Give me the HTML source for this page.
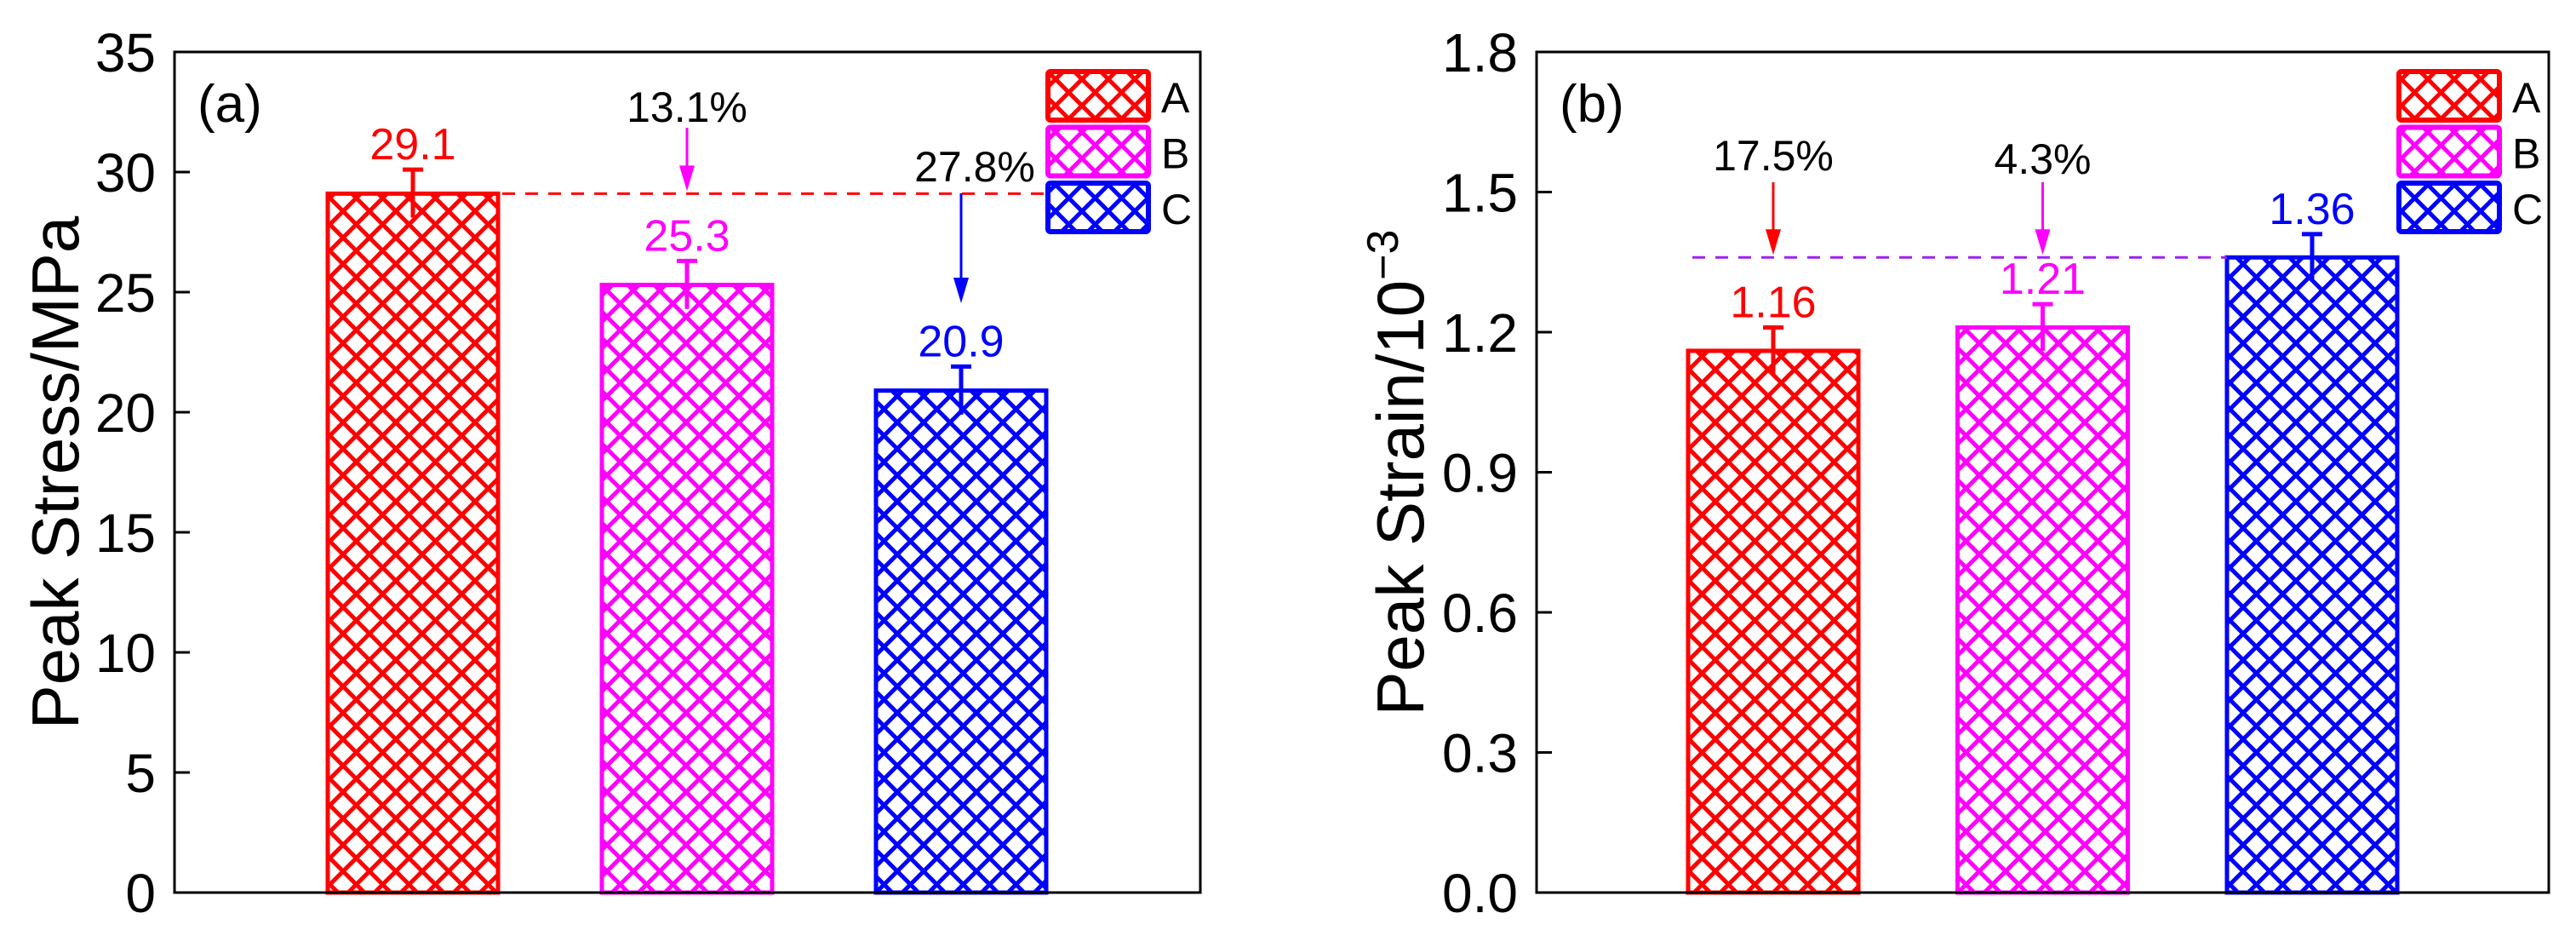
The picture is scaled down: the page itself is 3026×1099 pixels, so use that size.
<!DOCTYPE html>
<html><head><meta charset="utf-8"><style>
html,body{margin:0;padding:0;background:#fff}
svg{display:block}
text{font-family:"Liberation Sans",Arial,sans-serif}
</style></head><body>
<svg id="chart" width="3026" height="1099" viewBox="0 0 3026 1099" xmlns="http://www.w3.org/2000/svg">
<defs>
<pattern id="hA" patternUnits="userSpaceOnUse" width="31" height="31"><path d="M-8,-8 L39,39 M-8,39 L39,-8 M-8,23 L8,39 M23,-8 L39,8 M-8,8 L8,-8 M23,39 L39,23" stroke="#ff0000" stroke-width="5" fill="none"/></pattern>
<pattern id="hB" patternUnits="userSpaceOnUse" width="31" height="31"><path d="M-8,-8 L39,39 M-8,39 L39,-8 M-8,23 L8,39 M23,-8 L39,8 M-8,8 L8,-8 M23,39 L39,23" stroke="#ff00ff" stroke-width="5" fill="none"/></pattern>
<pattern id="hC" patternUnits="userSpaceOnUse" width="31" height="31"><path d="M-8,-8 L39,39 M-8,39 L39,-8 M-8,23 L8,39 M23,-8 L39,8 M-8,8 L8,-8 M23,39 L39,23" stroke="#0000ff" stroke-width="5" fill="none"/></pattern>
<marker id="arR" markerWidth="6" markerHeight="8" refX="5" refY="4" orient="auto" markerUnits="userSpaceOnUse" viewBox="0 0 6 8"><path d="M0,0 L6,4 L0,8 Z" fill="#ff0000"/></marker>
</defs>
</svg>
<script>
const categories = ["A", "B", "C"];
const colors = ["#ff0000", "#ff00ff", "#0000ff"];
const stressValues = [29.1, 25.3, 20.9];
const stressErrors = [1.0, 1.0, 1.0];
const stressLabels = ["29.1", "25.3", "20.9"];
const stressTicks = [0, 5, 10, 15, 20, 25, 30, 35];
const stressTickLabels = ["0", "5", "10", "15", "20", "25", "30", "35"];
const strainValues = [1.16, 1.21, 1.36];
const strainErrors = [0.05, 0.05, 0.05];
const strainLabels = ["1.16", "1.21", "1.36"];
const strainTicks = [0, 0.3, 0.6, 0.9, 1.2, 1.5, 1.8];
const strainTickLabels = ["0.0", "0.3", "0.6", "0.9", "1.2", "1.5", "1.8"];

const NS = "http://www.w3.org/2000/svg";
const svg = document.getElementById("chart");
function mk(tag, attrs, parent, text) {
  const e = document.createElementNS(NS, tag);
  for (const k in attrs) e.setAttribute(k, attrs[k]);
  if (text !== undefined) e.textContent = text;
  (parent || svg).appendChild(e);
  return e;
}
function arrow(g, x, y1, y2, color) {
  const l = mk("line", {x1: x, y1: y1, x2: x, y2: y2 - 26, stroke: color, "stroke-width": 3}, g);
  
  
  const h = mk("path", {d: `M${x - 9},${y2 - 30} L${x + 9},${y2 - 30} L${x},${y2} Z`, fill: color}, g);
  
  
}

function panel(cfg) {
  const g = mk("g", {});
  
  
  const L = cfg.left, R = cfg.right, T = 61, B = 1048;
  const y = v => B - (v - 0) / (cfg.max) * (B - T);
  const spacing = cfg.spacing;
  const x = i => cfg.firstX + i * spacing;
  const bw = 200;
  // ticks and labels
  cfg.ticks.forEach((t, i) => {
    if (t > 0 && t < cfg.max) {
      const tk = mk("line", {x1: L, y1: y(t), x2: L + 18, y2: y(t), stroke: "#000", "stroke-width": 3}, g);
      
      
    }
    const tl = mk("text", {x: L - 22, y: y(t) + 23, "text-anchor": "end", "font-size": 64}, g, cfg.tickLabels[i]);
    
    
  });
  // bars
  cfg.values.forEach((v, i) => {
    const bar = mk("rect", {x: x(i) - bw / 2, y: y(v), width: bw, height: B - y(v), fill: `url(#h${categories[i]})`, stroke: colors[i], "stroke-width": 5}, g);
    
    
    const e = cfg.errors[i];
    const eb = mk("path", {d: `M${x(i)},${y(v - e)} L${x(i)},${y(v + e)} M${x(i) - 12},${y(v + e)} L${x(i) + 12},${y(v + e)}`, stroke: colors[i], "stroke-width": 5, fill: "none"}, g);
    
    
    const vl = mk("text", {x: x(i), y: y(v + e) - 12, "text-anchor": "middle", "font-size": 52, fill: colors[i]}, g, cfg.labels[i]);
    
    
  });
  cfg.extra(g, x, y, bw);
  // frame
  const fr = mk("rect", {x: L, y: T, width: R - L, height: B - T, fill: "none", stroke: "#000", "stroke-width": 3}, g);
  
  
  // panel letter
  const pl = mk("text", {x: L + 27, y: 143, "font-size": 62}, g, cfg.letter);
  
  
  // legend
  categories.forEach((c, i) => {
    const ly = 84 + i * 65.5;
    const lb = mk("rect", {x: cfg.legX, y: ly, width: 118, height: 57, rx: 3, fill: `url(#h${c})`, stroke: colors[i], "stroke-width": 6}, g);
    
    
    const lt = mk("text", {x: cfg.legX + 133, y: ly + 48, "font-size": 50}, g, c);
    
    
  });
  // y title
  const yt = mk("text", {transform: `translate(${cfg.titleX},555) rotate(-90)`, "text-anchor": "middle", "font-size": 78}, g);
  
  
  cfg.title(yt);
}

panel({
  name: "panel-a-peak-stress", left: 205, right: 1410, max: 35, firstX: 485, spacing: 322,
  values: stressValues, errors: stressErrors, labels: stressLabels,
  ticks: stressTicks, tickLabels: stressTickLabels, letter: "(a)", legX: 1231, titleX: 92,
  title: t => { t.textContent = "Peak Stress/MPa"; },
  extra: (g, x, y, bw) => {
    const d = mk("line", {x1: x(0) + bw / 2 + 5, y1: y(stressValues[0]), x2: 1228, y2: y(stressValues[0]), stroke: "#ff0000", "stroke-width": 3, "stroke-dasharray": "15 12"}, g);
    
    
    arrow(g, x(1), 150, y(stressValues[0]) - 3, "#ff00ff");
    arrow(g, x(2), 227, 356, "#0000ff");
    const p1 = mk("text", {x: x(1), y: 143, "text-anchor": "middle", "font-size": 50}, g, "13.1%");
    
    
    const p2 = mk("text", {x: x(2) + 16, y: 213, "text-anchor": "middle", "font-size": 50}, g, "27.8%");
    
    
  }
});

panel({
  name: "panel-b-peak-strain", left: 1805, right: 2994, max: 1.8, firstX: 2083, spacing: 316.5,
  values: strainValues, errors: strainErrors, labels: strainLabels,
  ticks: strainTicks, tickLabels: strainTickLabels, letter: "(b)", legX: 2818, titleX: 1672,
  title: t => {
    t.textContent = "Peak Strain/10";
    const s = mk("tspan", {dy: -30, "font-size": 52}, t, "\u22123");
    
    
  },
  extra: (g, x, y, bw) => {
    const d = mk("line", {x1: 1988, y1: y(strainValues[2]), x2: x(2) - bw / 2, y2: y(strainValues[2]), stroke: "#a020f0", "stroke-width": 3, "stroke-dasharray": "15 12"}, g);
    
    
    arrow(g, x(0), 214, y(strainValues[2]) - 3, "#ff0000");
    arrow(g, x(1), 214, y(strainValues[2]) - 3, "#ff00ff");
    const p1 = mk("text", {x: x(0), y: 200, "text-anchor": "middle", "font-size": 50}, g, "17.5%");
    
    
    const p2 = mk("text", {x: x(1), y: 204, "text-anchor": "middle", "font-size": 50}, g, "4.3%");
    
    
  }
});
</script>
</body></html>
